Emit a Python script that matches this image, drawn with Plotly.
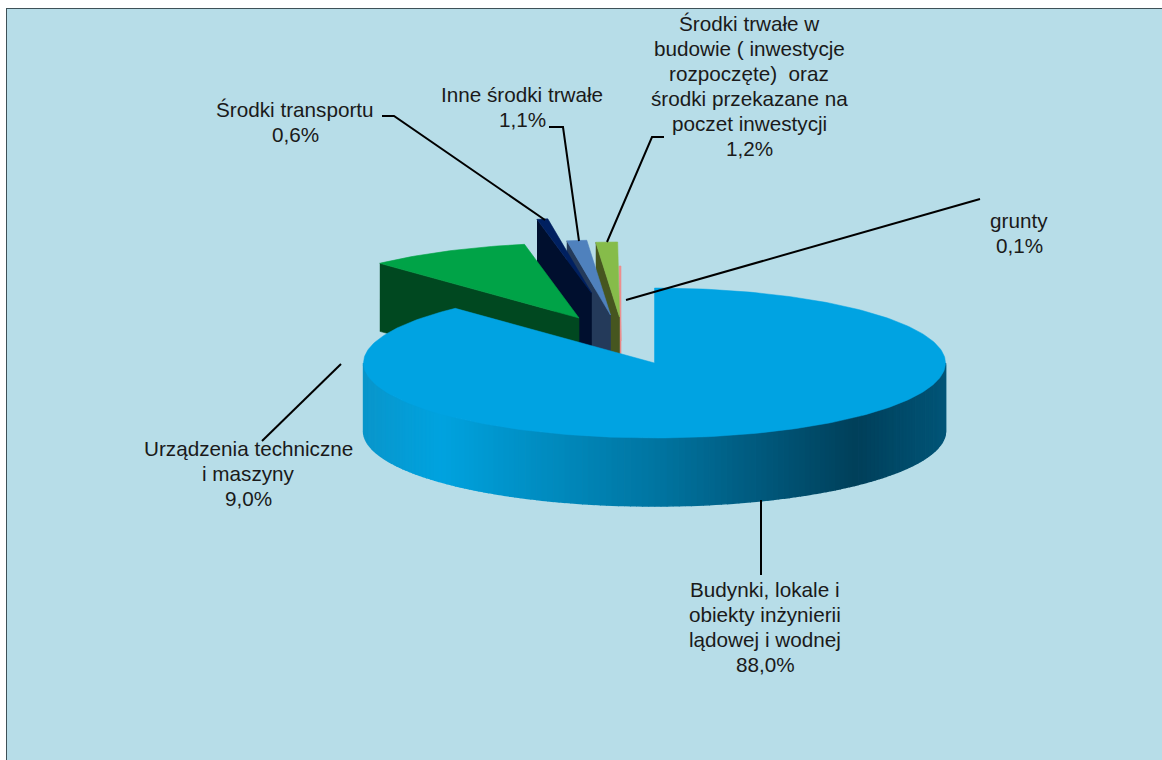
import numpy as np
import plotly.graph_objects as go

# ---- data ----
labels = [
    ["Budynki, lokale i", "obiekty inżynierii", "lądowej i wodnej"],
    ["Urządzenia techniczne", "i maszyny"],
    ["Środki transportu"],
    ["Inne środki trwałe"],
    ["Środki trwałe w", "budowie ( inwestycje", "rozpoczęte)  oraz", "środki przekazane na", "poczet inwestycji"],
    ["grunty"],
]
values = [88.0, 9.0, 0.6, 1.1, 1.2, 0.1]

# ---- styling / geometry ----
top_colors = ["#00a3e2", "#00a347", "#002060", "#4f81bd", "#86bc4a", "#ee8f8f"]
face_colors = ["#00a3e2", "#004820", "#000f2e", "#243a5a", "#46561f", "#e98585"]
centers = [(654.5, 363), (579, 318), (591.5, 293), (610.5, 315), (619.5, 317), (621, 341)]
RX, RY, DEPTH = 291, 75, 68
label_pos = [(765, 589), (248, 448), (295, 109), (522, 94), (749, 23), (1019, 220)]
LINE_STEP = 25
leaders = [
    [(761, 500), (761, 575)],
    [(341, 364), (262, 441)],
    [(382, 116), (394, 116), (545, 220)],
    [(549, 127), (563, 127), (579, 241)],
    [(664, 137), (652, 137), (607, 242)],
    [(980, 199), (626, 300)],
]
wall_x = [363, 440, 505, 661, 758, 856, 946]
wall_rgb = [(10, 150, 203), (0, 163, 224), (0, 149, 204), (0, 116, 160),
            (0, 90, 126), (0, 64, 90), (0, 85, 120)]
BG = "#b7dde8"
EDGE = "#3e5158"

shares = np.array(values) / sum(values)
edges = np.concatenate([[0], np.cumsum(shares) * 2 * np.pi])


def rim(cx, cy, a):
    return cx + RX * np.sin(a), cy - RY * np.cos(a)


def poly(fig, xs, ys, color, width=0.6):
    fig.add_trace(go.Scatter(
        x=list(xs), y=list(ys), mode="lines", fill="toself", fillcolor=color,
        line=dict(color=color, width=width), hoverinfo="skip", showlegend=False))


fig = go.Figure()

# smaller slices are painted from right to left, then the large one on top
for i in [5, 4, 3, 2, 1]:
    cx, cy = centers[i]
    a0, a1 = edges[i], edges[i + 1]
    x0, y0 = rim(cx, cy, a0)
    # cut face seen from the front-left
    poly(fig, [x0, cx, cx, x0], [y0, cy, cy + DEPTH, y0 + DEPTH], face_colors[i])
    t = np.linspace(a0, a1, 30)
    rx, ry = rim(cx, cy, t)
    poly(fig, [cx, *rx, cx], [cy, *ry, cy], top_colors[i])

# outer wall of the large slice, as shaded strips painted left to right,
# each overlapping the next so no seams show
cx, cy = centers[0]
strip = np.linspace(3 * np.pi / 2, np.pi / 2, 151)
for a, b in zip(strip[:-1], strip[1:]):
    xa, ya = rim(cx, cy, a)
    xb, yb = rim(cx, cy, b)
    xm = (xa + xb) / 2
    rgb = [np.interp(xm, wall_x, [c[k] for c in wall_rgb]) for k in range(3)]
    col = "rgb(%d,%d,%d)" % tuple(rgb)
    poly(fig, [xa, xb, xb, xa], [ya, yb, yb + DEPTH, ya + DEPTH], col, width=1.5)

# top of the large slice
t = np.linspace(edges[0], edges[1], 300)
rx, ry = rim(cx, cy, t)
poly(fig, [cx, *rx, cx], [cy, *ry, cy], top_colors[0], width=0.5)

# leader lines
for pts in leaders:
    fig.add_trace(go.Scatter(
        x=[p[0] for p in pts], y=[p[1] for p in pts], mode="lines",
        line=dict(color="#000000", width=2), hoverinfo="skip", showlegend=False))

annotations = []
for lab, val, (x, y) in zip(labels, values, label_pos):
    lines = lab + [f"{val:.1f}%".replace(".", ",")]
    for k, line in enumerate(lines):
        annotations.append(dict(
            x=x, y=y + k * LINE_STEP, xref="x", yref="y", showarrow=False, align="center",
            xanchor="center", yanchor="middle", text=line,
            font=dict(family="Liberation Sans, Arial, sans-serif", size=20.7, color="#1a1a1a")))

fig.update_layout(
    width=1162, height=760, margin=dict(l=0, r=0, t=0, b=0),
    paper_bgcolor="#ffffff", plot_bgcolor="#ffffff", showlegend=False,
    xaxis=dict(range=[0, 1162], visible=False, fixedrange=True),
    yaxis=dict(range=[760, 0], visible=False, fixedrange=True),
    annotations=annotations,
    shapes=[
        dict(type="rect", xref="x", yref="y", x0=6, y0=8, x1=1162, y1=760,
             fillcolor=BG, line=dict(width=0), layer="below"),
        dict(type="line", xref="x", yref="y", x0=6.5, y0=8, x1=6.5, y1=760,
             line=dict(color=EDGE, width=1), layer="below"),
        dict(type="line", xref="x", yref="y", x0=6, y0=8.5, x1=1162, y1=8.5,
             line=dict(color=EDGE, width=1), layer="below"),
    ],
)

fig.write_html(
    "out.html",
    config=dict(displayModeBar=False, staticPlot=True),
    post_script="document.body.style.margin='0';document.documentElement.style.overflow='hidden';",
)
